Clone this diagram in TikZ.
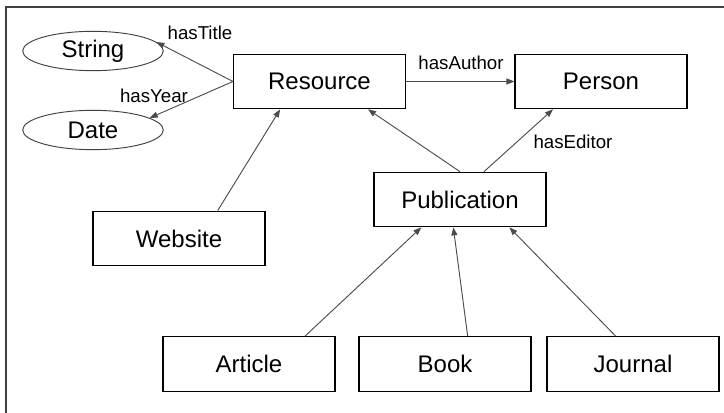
\documentclass[tikz,border=0pt]{standalone}
\usepackage{fontspec}
\setmainfont{Liberation Sans}
\usetikzlibrary{arrows.meta,shapes.geometric}
\begin{document}
\begin{tikzpicture}[x=0.75pt,y=-0.75pt,
  cls/.style={draw=black,line width=0.8pt,minimum width=129pt,minimum height=41pt,
    inner sep=0pt,font=\fontsize{18}{20}\selectfont},
  lit/.style={draw=black!75,ellipse,line width=0.7pt,minimum width=105.5pt,minimum height=29.5pt,
    inner sep=0pt,font=\fontsize{18}{20}\selectfont},
  rel/.style={draw=black!70,line width=0.7pt,-{Triangle[length=6pt,width=4.5pt]}},
  lbl/.style={font=\fontsize{14}{16}\selectfont,inner sep=0pt}]
\useasboundingbox (0,0) rectangle (724,413);
% outer frame
\draw[black!75,line width=0.9pt] (6,413) -- (6,7) -- (724,7);

% classes and literals
\node[lit] (S) at (93,51) {String};
\node[lit] (D) at (93,130) {Date};
\node[cls] (R) at (319.5,81.5) {Resource};
\node[cls] (Pe) at (601,81.5) {Person};
\node[cls] (P) at (460,199.5) {Publication};
\node[cls] (W) at (179,238.5) {Website};
\node[cls] (A) at (249,364) {Article};
\node[cls] (B) at (445,364) {Book};
\node[cls] (J) at (633,364) {Journal};

% properties
\draw[rel] (R.west) -- (S.8);
\draw[rel] (R.west) -- (D.12);
\draw[rel] (R.east) -- (Pe.west);
\draw[rel] (P.north) -- ([xshift=-28.5pt]R.south east);
\draw[rel] ([xshift=18pt]P.north) -- ([xshift=-36pt]Pe.south);
\draw[rel] ([xshift=29pt]W.north) -- ([xshift=-29.5pt]R.south);
\draw[rel] ([xshift=42pt]A.north) -- ([xshift=-29pt]P.south);
\draw[rel] ([xshift=17pt]B.north) -- ([xshift=-5pt]P.south);
\draw[rel] ([xshift=-13pt]J.north) -- ([xshift=37pt]P.south);

% property labels
\node[lbl] (lt) at (200,33) {hasTitle};
\node[lbl] (ly) at (154,96) {hasYear};
\node[lbl] (la) at (461,63) {hasAuthor};
\node[lbl] (le) at (573,142) {hasEditor};
\end{tikzpicture}
\end{document}
